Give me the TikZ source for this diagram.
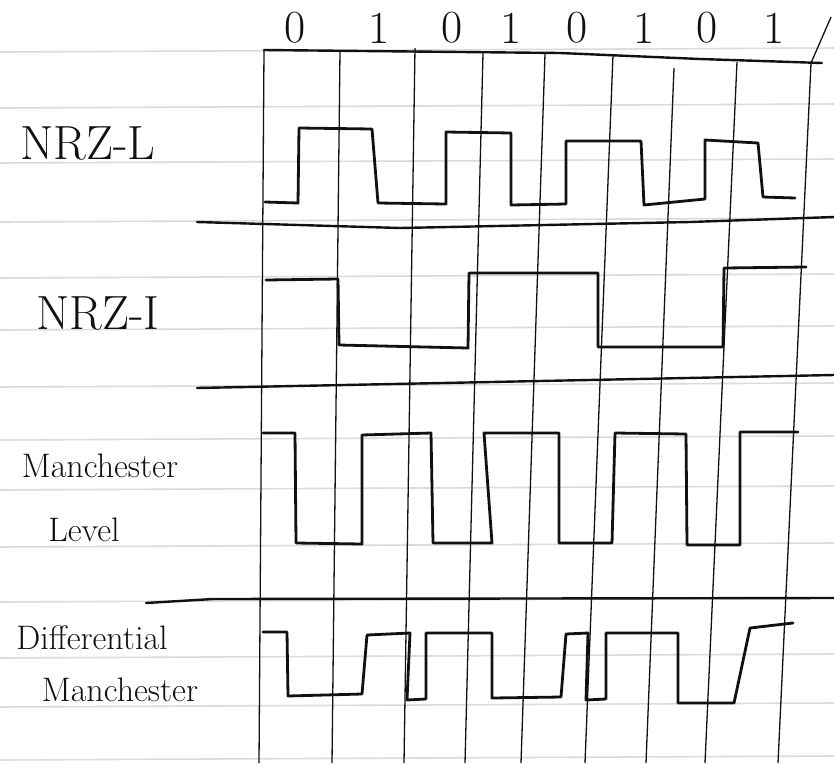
\documentclass[tikz,border=0pt]{standalone}
\usetikzlibrary{positioning}

\begin{document}
\begin{tikzpicture}[
    x=1pt, y=-1pt,
    every node/.style={font=\rmfamily},
]

\definecolor{ink}{HTML}{111111}
\definecolor{paper}{HTML}{FFFFFF}
\definecolor{rulecolor}{HTML}{DEDADA}

\tikzset{
  ruled/.style={rulecolor, line width=1.6pt},
  gridline/.style={ink, line width=1.3pt},
  sepline/.style={ink, line width=2.4pt, line cap=round, line join=round},
  wave/.style={ink, line width=2.8pt, line cap=round, line join=round},
  bit/.style={font=\fontsize{46}{48}\selectfont, text=ink, inner sep=0pt},
  lbl/.style={font=\fontsize{48}{50}\selectfont, text=ink, inner sep=0pt},
  lbltwo/.style={font=\fontsize{34}{36}\selectfont, text=ink, inner sep=0pt},
}

% ================================================================
% Line codes for the bit string 0 1 0 1 0 1 0 1, one strip each.
% Units are pixels of the page, y grows downwards.
%
%   y =  28      bits
%   y =  50      top rule, x from 264 to 822
%   y = 222      rule under NRZ-L     (high 130, low 202)
%   y = 382      rule under NRZ-I     (high 273, low 347)
%   y = 600      rule under Manchester (high 433, low 544)
%                Differential Manchester below (high 633, low 698)
% The bit lines lean a little to the left towards the bottom.
% ================================================================

\useasboundingbox[fill=paper] (0,0) rectangle (834,763);

% ---------------------------------------------------------------- paper
\foreach \y in {52,108,163,222,278,330,387,440,490,547,602,658,707,760}
  \draw[ruled] (0,\y) -- (834,\y-4);

% ---------------------------------------------------------------- bit lines
\foreach \xt/\yt/\xb in {264/50/259, 340/51/332, 415/48/404, 483/53/465,
                         545/54/521, 613/55/585, 674/68/646, 737/62/705}
  \draw[gridline] (\xt,\yt) -- (\xb,763);
\draw[gridline] (831,17) -- (811,63) -- (778,763);

% ---------------------------------------------------------------- rules
\draw[sepline] (264,50) -- (560,53) -- (700,59) -- (822,63);
\draw[sepline] (197,222) -- (400,228) -- (690,222) -- (834,217);
\draw[sepline] (197,388) -- (834,375);
\draw[sepline] (146,603) -- (213,599) -- (834,598);

% ---------------------------------------------------------------- bits
\foreach \b/\x [count=\i] in {0/295, 1/379, 0/452, 1/511, 0/577, 1/644, 0/707, 1/774}
  \node[bit] (bit\i) at (\x,28) {\b};

% ---------------------------------------------------------------- labels
\node[lbl] (nrzl) at (88,143) {NRZ-L};
\node[lbl] (nrzi) at (98,313) {NRZ-I};
\node[lbltwo] (manch) at (100,466) {Manchester};
\node[lbltwo] (level) at (84,530) {Level};
\node[lbltwo] (diff) at (92,638) {Differential};
\node[lbltwo] (dmanch) at (120,690) {Manchester};

% ---------------------------------------------------------------- NRZ-L
\draw[wave] (265,202) -- (298,203) -- (299,128) -- (372,129) -- (378,203)
  -- (446,204) -- (446,132) -- (511,133) -- (511,205) -- (566,204)
  -- (566,141) -- (641,141) -- (644,205) -- (705,199) -- (705,140)
  -- (758,143) -- (763,197) -- (795,198);

% ---------------------------------------------------------------- NRZ-I
\draw[wave] (266,280) -- (338,279) -- (339,345) -- (468,348) -- (469,273)
  -- (598,273) -- (598,347) -- (723,347) -- (724,268) -- (806,267);

% ---------------------------------------------------------------- Manchester
\draw[wave] (263,433) -- (295,433) -- (296,543) -- (362,544) -- (362,435)
  -- (431,433) -- (433,543) -- (492,543) -- (484,433) -- (559,433)
  -- (559,543) -- (612,543) -- (615,433) -- (686,434) -- (687,545)
  -- (740,545) -- (740,432) -- (798,432);

% ---------------------------------------------------------------- Differential Manchester
\draw[wave] (263,632) -- (287,632) -- (288,696) -- (362,694) -- (367,635)
  -- (410,633) -- (407,700) -- (426,699) -- (426,633) -- (492,633)
  -- (492,698) -- (561,697) -- (566,634) -- (588,633) -- (586,700)
  -- (606,699) -- (606,633) -- (678,633) -- (678,703) -- (734,703)
  -- (750,628) -- (793,623);

\end{tikzpicture}
\end{document}
